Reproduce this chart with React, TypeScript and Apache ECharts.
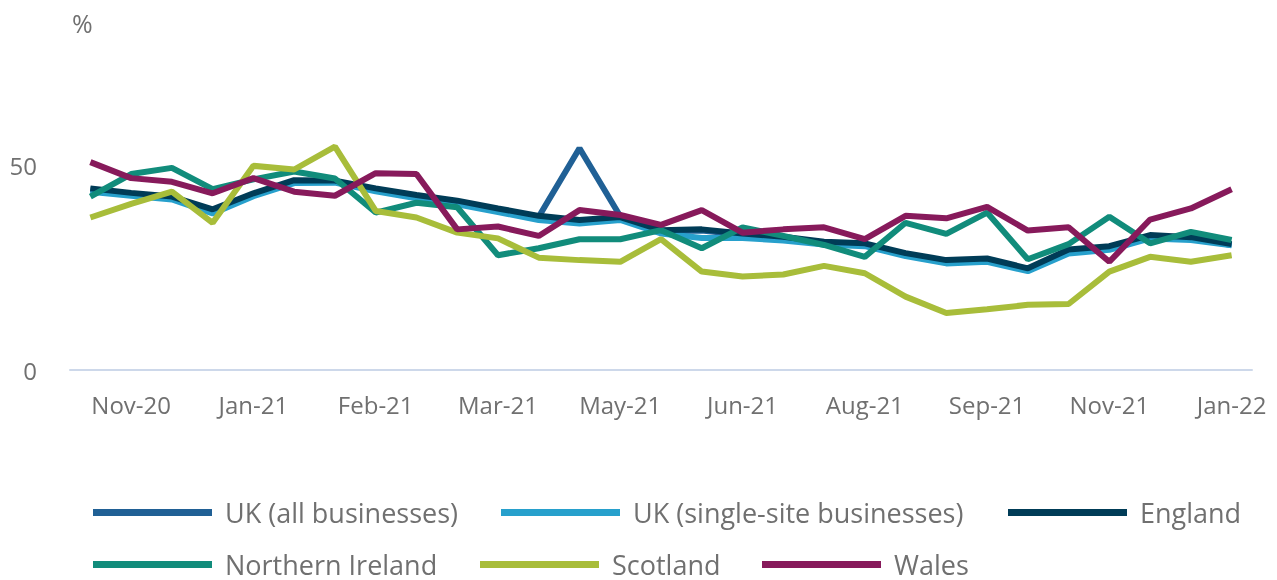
import React, { useEffect, useRef } from "react";
import * as echarts from "echarts";

const categories = [
  "Oct-20", "Nov-20", "Nov-20", "Dec-20", "Jan-21", "Jan-21", "Jan-21", "Feb-21", "Feb-21",
  "Mar-21", "Mar-21", "Apr-21", "Apr-21", "May-21", "May-21", "Jun-21", "Jun-21", "Jul-21",
  "Jul-21", "Aug-21", "Aug-21", "Sep-21", "Sep-21", "Oct-21", "Oct-21", "Nov-21", "Nov-21",
  "Dec-21", "Jan-22",
];

const ukAll = [
  44.0, 42.9, 42.0, 38.9, 42.8, 46.0, 45.9, 44.0, 42.4, 41.0, 39.1, 37.4, 54.1, 37.5, 33.8,
  34.0, 33.0, 32.2, 31.0, 30.6, 28.2, 26.5, 26.9, 24.5, 29.1, 29.9, 32.6, 32.1, 30.5,
];
const ukSingle = [
  43.5, 42.5, 41.6, 38.2, 42.4, 45.6, 45.7, 43.6, 41.9, 40.4, 38.5, 36.6, 35.7, 36.6, 33.3,
  32.2, 32.2, 31.6, 30.6, 30.2, 27.8, 26.0, 26.4, 24.1, 28.4, 29.3, 32.1, 31.7, 30.4,
];
const england = [
  44.3, 43.2, 42.3, 39.2, 43.1, 46.3, 46.2, 44.3, 42.7, 41.3, 39.4, 37.6, 36.6, 37.3, 34.1,
  34.3, 33.3, 32.5, 31.3, 30.9, 28.5, 26.8, 27.2, 24.8, 29.4, 30.2, 32.9, 32.4, 30.7,
];
const northernIreland = [
  42.3, 47.8, 49.3, 44.1, 46.5, 48.4, 46.7, 38.4, 40.8, 39.7, 28.0, 29.7, 31.9, 31.9, 34.1,
  29.7, 34.8, 32.7, 30.5, 27.6, 35.9, 33.2, 38.4, 27.0, 30.7, 37.4, 30.9, 33.7, 31.7,
];
const scotland = [
  37.2, 40.5, 43.5, 35.9, 49.8, 48.9, 54.5, 38.8, 37.2, 33.5, 32.1, 27.4, 26.8, 26.4, 31.9,
  24.0, 22.8, 23.3, 25.4, 23.6, 17.9, 13.9, 14.8, 15.9, 16.1, 24.0, 27.6, 26.4, 28.0,
];
const wales = [
  50.7, 46.8, 45.9, 43.1, 46.8, 43.5, 42.5, 48.0, 47.8, 34.3, 35.0, 32.7, 39.0, 37.8, 35.4,
  39.0, 33.5, 34.3, 34.8, 31.9, 37.6, 37.0, 39.8, 34.0, 34.8, 26.4, 36.7, 39.4, 44.1,
];

const seriesNames = [
  "UK (all businesses)",
  "UK (single-site businesses)",
  "England",
  "Northern Ireland",
  "Scotland",
  "Wales",
];
const seriesData = [ukAll, ukSingle, england, northernIreland, scotland, wales];
const seriesColors = ["#206095", "#27A0CC", "#003C57", "#118C7B", "#A8BD3A", "#871A5B"];

// legend placement [left, top]
const legendPos: [number, number][] = [
  [93, 499],
  [501, 499],
  [1008, 499],
  [93, 551],
  [480, 551],
  [762, 551],
];

const FONT = "'Open Sans', sans-serif";
const TEXT = "#707070";

export default function App() {
  const ref = useRef<HTMLDivElement>(null);
  useEffect(() => {
    if (!ref.current) return;
    const chart = echarts.init(ref.current, undefined, { renderer: "svg" });
    const showIdx = (i: number) => i % 3 === 1;
    chart.setOption({
      animation: false,
      grid: { left: 70, right: 25, top: 124, bottom: 210 },
      graphic: [
        {
          type: "text",
          left: 72,
          top: 10,
          style: { text: "%", fontSize: 25, fontFamily: FONT, fill: TEXT },
        },
      ],
      legend: seriesNames.map((n, i) => ({
        data: [n],
        left: legendPos[i][0],
        top: legendPos[i][1],
        padding: 0,
        icon: "rect",
        itemWidth: 119,
        itemHeight: 7,
        selectedMode: false,
        textStyle: {
          fontSize: 27,
          fontFamily: FONT,
          color: TEXT,
          lineHeight: 27,
          padding: [0, 0, 0, 8],
        },
      })),
      xAxis: {
        type: "category",
        data: categories,
        boundaryGap: true,
        axisLine: { lineStyle: { color: "#cdd8ea", width: 2 } },
        axisTick: {
          interval: (i: number) => showIdx(i),
          alignWithLabel: true,
          length: 20,
          lineStyle: { color: "#cdd8ea", width: 2 },
        },
        axisLabel: {
          interval: (i: number) => showIdx(i),
          fontSize: 24,
          fontFamily: FONT,
          color: TEXT,
          margin: 22,
        },
        splitLine: { show: false },
      },
      yAxis: {
        type: "value",
        min: 0,
        max: 60,
        interval: 50,
        axisLine: { show: false },
        axisTick: { show: false },
        axisLabel: {
          fontSize: 24,
          fontFamily: FONT,
          color: TEXT,
          margin: 33,
          showMaxLabel: false,
        },
        splitLine: {
          show: true,
          showMinLine: false,
          showMaxLine: false,
          lineStyle: {
            color: ["rgba(0,0,0,0)", "#e3e3e3", "rgba(0,0,0,0)"],
            width: 2,
          },
        },
      },
      series: seriesNames.map((n, i) => ({
        name: n,
        type: "line",
        data: seriesData[i],
        symbol: "none",
        color: seriesColors[i],
        lineStyle: { width: 6, color: seriesColors[i] },
        itemStyle: { color: seriesColors[i] },
      })),
    });
    return () => chart.dispose();
  }, []);
  return (
    <div
      ref={ref}
      style={{ position: "fixed", left: 0, top: 0, width: 1277, height: 580 }}
    />
  );
}
